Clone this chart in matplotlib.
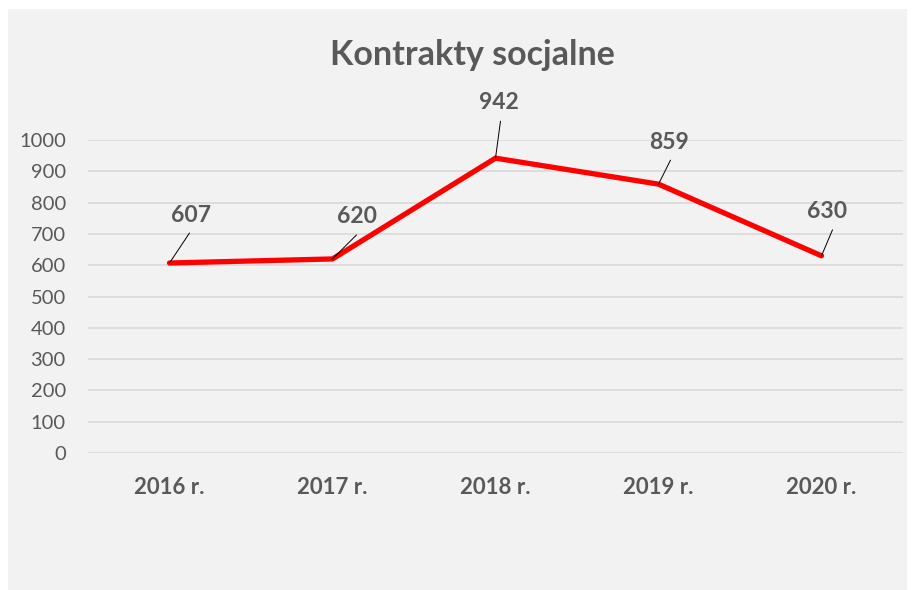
import matplotlib.pyplot as plt
from matplotlib.patches import Rectangle

plt.rcParams['font.family'] = ['Lato', 'DejaVu Sans']

years = ['2016 r.', '2017 r.', '2018 r.', '2019 r.', '2020 r.']
values = [607, 620, 942, 859, 630]
y_ticks = [0, 100, 200, 300, 400, 500, 600, 700, 800, 900, 1000]

# label / leader offsets in pixels (label centre, leader end)
label_off = [(21, 48), (24, 42), (3, 56), (10, 42), (6, 44)]
leader_off = [(20, 30), (24, 24), (5, 37), (12, 24), (11, 26)]

fig = plt.figure(figsize=(9.22, 5.90), dpi=100)
fig.patch.set_facecolor('white')
fig.patches.append(Rectangle((8 / 922, 0), 899 / 922, 581 / 590,
                             transform=fig.transFigure, facecolor='#f2f2f2',
                             edgecolor='none', zorder=-1))

ax = fig.add_axes([88 / 922, 1 - 453 / 590, 815 / 922, 313 / 590])
ax.set_facecolor('none')

x = list(range(len(years)))
ax.plot(x, values, color='#ff0000', lw=3.8, solid_capstyle='round',
        solid_joinstyle='round', zorder=3)

for i, v in enumerate(values):
    ax.annotate('', xy=(i, v), xytext=leader_off[i], textcoords='offset pixels',
                arrowprops=dict(arrowstyle='-', color='black', lw=0.7,
                                shrinkA=0, shrinkB=0), zorder=4)
    ax.annotate(str(v), xy=(i, v), xytext=label_off[i], textcoords='offset pixels',
                ha='center', va='center', fontsize=16.5, fontweight='bold',
                color='#595959', zorder=5)

ax.set_xlim(-0.5, len(years) - 0.5)
ax.set_ylim(0, 1000)
ax.set_yticks(y_ticks)
ax.set_xticks(x)
ax.set_xticklabels(years, fontsize=16, fontweight='bold', color='#595959')
ax.tick_params(axis='y', labelsize=14.5, labelcolor='#595959', length=0, pad=16)
ax.tick_params(axis='x', length=0, pad=17)
ax.grid(axis='y', color='#d9d9d9', lw=1.2)
ax.set_axisbelow(True)
for s in ax.spines.values():
    s.set_visible(False)

fig.text(472 / 922, 1 - 65 / 590, 'Kontrakty socjalne', ha='center', va='baseline',
         fontsize=24.5, fontweight='bold', color='#595959')

fig.savefig('out.png', dpi=100)
